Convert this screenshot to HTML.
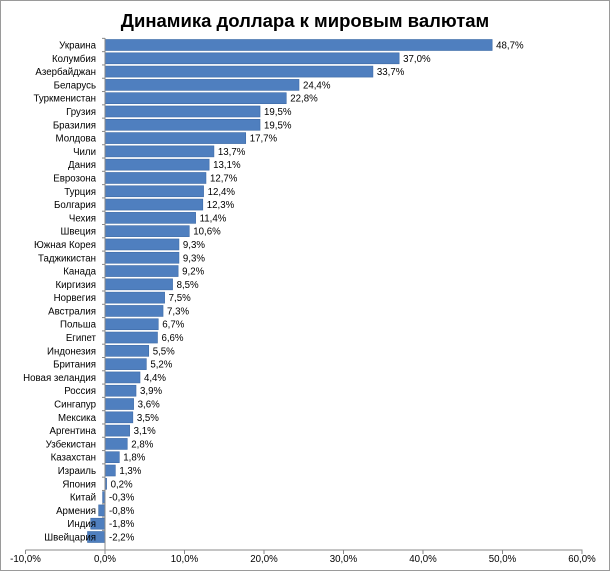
<!DOCTYPE html>
<html><head><meta charset="utf-8"><style>
body{margin:0;background:#fff;}
svg text{font-family:"Liberation Sans","DejaVu Sans",sans-serif;}
</style></head><body>
<svg width="610" height="571" xmlns="http://www.w3.org/2000/svg">
<rect x="0.5" y="0.5" width="609" height="570" fill="#fff" stroke="#9a9a9a"/>
<text x="305" y="27" text-anchor="middle" font-size="18.5" font-weight="bold" fill="#000">Динамика доллара к мировым валютам</text>
<g id="bars"></g>
<line x1="105" y1="38" x2="105" y2="550" stroke="#888"/>
<line x1="25.5" y1="550" x2="582.5" y2="550" stroke="#888"/>
<g id="ax"></g>
</svg>
<script>
var d=[["Украина",48.7],["Колумбия",37.0],["Азербайджан",33.7],["Беларусь",24.4],["Туркменистан",22.8],["Грузия",19.5],["Бразилия",19.5],["Молдова",17.7],["Чили",13.7],["Дания",13.1],["Еврозона",12.7],["Турция",12.4],["Болгария",12.3],["Чехия",11.4],["Швеция",10.6],["Южная Корея",9.3],["Таджикистан",9.3],["Канада",9.2],["Киргизия",8.5],["Норвегия",7.5],["Австралия",7.3],["Польша",6.7],["Египет",6.6],["Индонезия",5.5],["Британия",5.2],["Новая зеландия",4.4],["Россия",3.9],["Сингапур",3.6],["Мексика",3.5],["Аргентина",3.1],["Узбекистан",2.8],["Казахстан",1.8],["Израиль",1.3],["Япония",0.2],["Китай",-0.3],["Армения",-0.8],["Индия",-1.8],["Швейцария",-2.2]];
var s="",n=d.length,pitch=(537-45)/(n-1),k=7.95,z=105;
for(var i=0;i<n;i++){var c=45+i*pitch,v=d[i][1],x0=z,x1=z+v*k;
var l=Math.min(x0,x1),w=Math.max(Math.abs(x1-x0),1.5);
s+='<rect x="'+l+'" y="'+(c-5.5)+'" width="'+w+'" height="11" fill="#4f7fbf" stroke="#3d6aa6" stroke-width="0.6"/>';
s+='<text x="96" y="'+(c+3.5)+'" text-anchor="end" font-size="9.7">'+d[i][0]+'</text>';
var lx=(v>0?x1:z)+4;
s+='<text x="'+lx+'" y="'+(c+3.5)+'" font-size="9.7">'+v.toFixed(1).replace('.',',')+'%</text>';
s+='<line x1="102" y1="'+(c-pitch/2)+'" x2="105" y2="'+(c-pitch/2)+'" stroke="#888"/>';}
document.getElementById('bars').innerHTML=s;
var a="";for(var t=-10;t<=60;t+=10){var x=z+t*k;
a+='<line x1="'+x+'" y1="550" x2="'+x+'" y2="554" stroke="#888"/><text x="'+x+'" y="562" text-anchor="middle" font-size="9.7">'+t.toFixed(1).replace('.',',')+'%</text>';}
document.getElementById('ax').innerHTML=a;
</script>
</body></html>
